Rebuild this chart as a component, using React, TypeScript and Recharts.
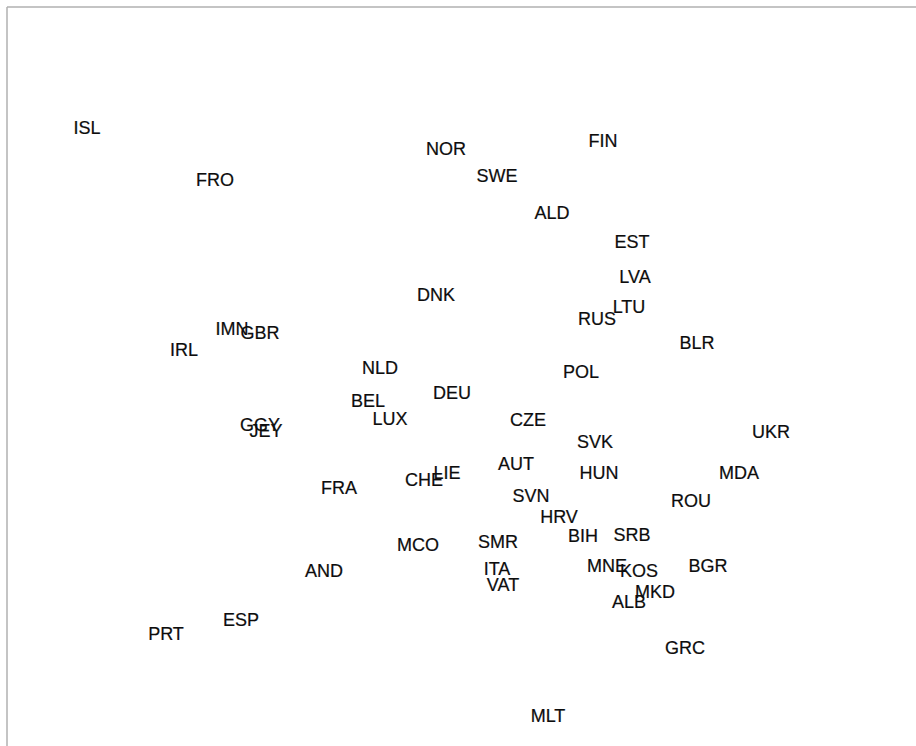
import React from "react";
import { ScatterChart, Scatter, XAxis, YAxis } from "recharts";

const labels = [
  "ISL", "FRO", "NOR", "SWE", "FIN", "ALD", "EST", "LVA", "LTU", "RUS",
  "DNK", "IMN", "GBR", "IRL", "BLR", "NLD", "POL", "DEU", "BEL", "LUX",
  "CZE", "GGY", "JEY", "SVK", "UKR", "LIE", "CHE", "AUT", "HUN", "MDA",
  "FRA", "SVN", "ROU", "HRV", "BIH", "SRB", "SMR", "MCO", "AND", "ITA",
  "MNE", "KOS", "BGR", "VAT", "MKD", "ALB", "ESP", "PRT", "GRC", "MLT",
];

const xs = [
  80, 208, 439, 490, 596, 545, 625, 628, 622, 590,
  429, 225, 253, 177, 690, 373, 574, 445, 361, 383,
  521, 253, 259, 588, 764, 440, 417, 509, 592, 732,
  332, 524, 684, 552, 576, 625, 491, 411, 317, 490,
  600, 632, 701, 496, 648, 622, 234, 159, 678, 541,
];

const ys = [
  121, 173, 142, 169, 134, 206, 235, 270, 300, 312,
  288, 322, 326, 343, 336, 361, 365, 386, 394, 412,
  413, 418, 424, 435, 425, 466, 473, 457, 466, 466,
  481, 489, 494, 510, 529, 528, 535, 538, 564, 562,
  559, 564, 559, 578, 585, 595, 613, 627, 641, 709,
];

const data = labels.map((name, i) => ({ name, x: xs[i], y: ys[i] }));

const Label = (props: any) => {
  const { cx, cy, payload } = props;
  return (
    <text
      x={cx}
      y={cy}
      dy="0.36em"
      textAnchor="middle"
      fontSize={18}
      fontFamily="'Liberation Sans', Arial, sans-serif"
      fill="#0d0d0d"
      stroke="#0d0d0d"
      strokeWidth={0.2}
    >
      {payload.name}
    </text>
  );
};

export default function App() {
  return (
    <div style={{ position: "absolute", left: 0, top: 0 }}>
      <ScatterChart
        width={916}
        height={746}
        margin={{ top: 6, right: 0, left: 6, bottom: 0 }}
      >
        <XAxis
          type="number"
          dataKey="x"
          orientation="top"
          domain={[0, 909]}
          height={1}
          tick={false}
          tickLine={false}
          axisLine={{ stroke: "#b0b0b0", strokeWidth: 1.5 }}
        />
        <YAxis
          type="number"
          dataKey="y"
          domain={[0, 739]}
          reversed
          width={1}
          tick={false}
          tickLine={false}
          axisLine={{ stroke: "#b0b0b0", strokeWidth: 1.5 }}
        />
        <Scatter data={data} shape={<Label />} isAnimationActive={false} />
      </ScatterChart>
    </div>
  );
}
